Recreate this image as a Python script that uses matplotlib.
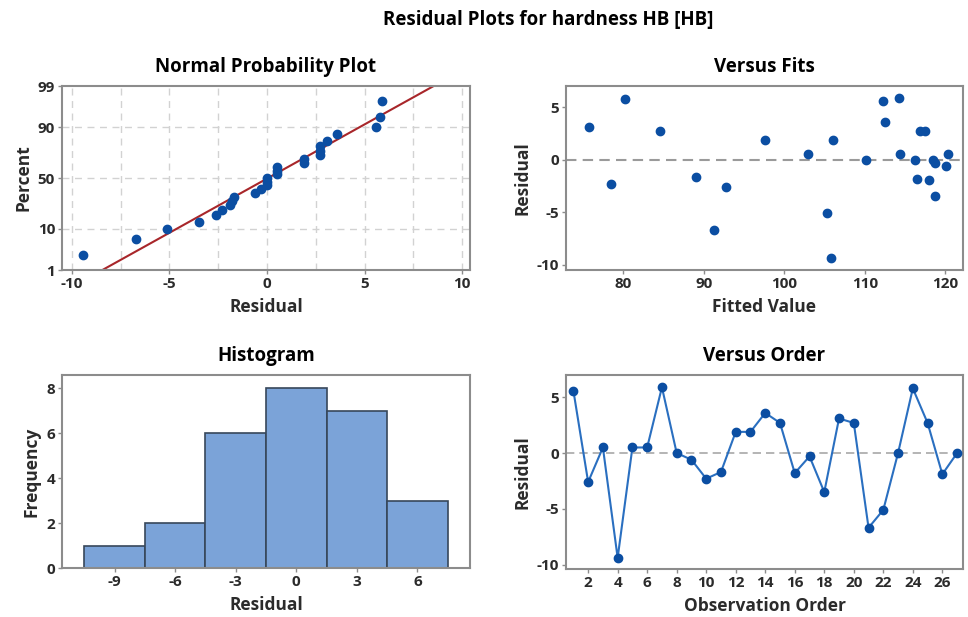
import matplotlib
matplotlib.use('Agg')
import matplotlib.pyplot as plt
import numpy as np
from statistics import NormalDist

plt.rcParams['font.family'] = ['Open Sans', 'DejaVu Sans']
plt.rcParams['font.weight'] = 'bold'
plt.rcParams['axes.unicode_minus'] = False

# residuals in observation order
residuals = [5.6, -2.6, 0.5, -9.4, 0.5, 0.5, 5.9, 0.0, -0.6, -2.3, -1.7, 1.9, 1.9, 3.6,
             2.7, -1.8, -0.3, -3.5, 3.1, 2.7, -6.7, -5.1, 0.0, 5.8, 2.7, -1.9, 0.0]
# fitted values in observation order
fitted = [112.3, 92.8, 103.0, 105.8, 114.4, 120.3, 114.3, 116.3, 120.1, 78.5, 89.1, 97.6,
          106.1, 112.5, 116.9, 116.5, 118.7, 118.7, 75.7, 117.5, 91.3, 105.3, 118.5, 80.2,
          84.6, 118.0, 110.1]
order = list(range(1, len(residuals) + 1))

pct_ticks = [1, 10, 50, 90, 99]
hist_edges = [-10.5, -7.5, -4.5, -1.5, 1.5, 4.5, 7.5]

dot = '#0b4ea2'
spine_col = '#8c8c8c'
txt = '#2b2b2b'
grid_col = '#d2d2d2'
TICK = 11
LAB = 12.5
TTL = 13.5

fig = plt.figure(figsize=(9.68, 6.17), dpi=100)

def style(ax):
    for s in ax.spines.values():
        s.set_color(spine_col)
        s.set_linewidth(1.5)
    ax.tick_params(colors=spine_col, labelcolor=txt, labelsize=TICK, length=3, width=1, pad=2)
    for lab in ax.get_xticklabels() + ax.get_yticklabels():
        lab.set_fontweight('bold')

def labels(ax, xl, yl, title):
    ax.set_xlabel(xl, fontsize=LAB, fontweight='bold', color=txt, labelpad=5)
    ax.set_ylabel(yl, fontsize=LAB, fontweight='bold', color=txt, labelpad=4)
    ax.set_title(title, fontsize=TTL, fontweight='bold', pad=10)

W, H = 968, 617
def box(l, t, r, b):
    return [l / W, 1 - b / H, (r - l) / W, (b - t) / H]

nd = NormalDist()

# --- Normal probability plot
ax1 = fig.add_axes(box(62, 86, 470, 270))
r = np.sort(np.array(residuals))
n = len(r)
p = [(i - 0.3) / (n + 0.4) for i in range(1, n + 1)]
z = [nd.inv_cdf(q) for q in p]
mu, sd = np.mean(r), np.std(r, ddof=1)
zl = np.array([-3.0, 3.0])
ax1.plot(mu + sd * zl, zl, color='#a8262a', lw=1.5, zorder=2)
ax1.scatter(r, z, s=36, color=dot, zorder=3)
ax1.set_xlim(-10.5, 10.4)
ax1.set_ylim(nd.inv_cdf(0.01), nd.inv_cdf(0.99))
ax1.set_xticks([-10, -5, 0, 5, 10])
ax1.set_yticks([nd.inv_cdf(v / 100) for v in pct_ticks])
ax1.set_yticklabels([str(v) for v in pct_ticks])
for gx in np.arange(-10, 10.1, 2.5):
    ax1.axvline(gx, color=grid_col, lw=1, ls=(0, (5, 4)), zorder=0)
for v in [10, 50, 90]:
    ax1.axhline(nd.inv_cdf(v / 100), color=grid_col, lw=1, ls=(0, (5, 4)), zorder=0)
labels(ax1, 'Residual', 'Percent', 'Normal Probability Plot')
style(ax1)

# --- Versus fits
ax2 = fig.add_axes(box(566, 86, 963, 270))
ax2.axhline(0, color='#9a9a9a', lw=1.5, ls=(0, (5, 3)), zorder=1)
ax2.scatter(fitted, residuals, s=36, color=dot, zorder=3)
ax2.set_xlim(72.9, 122.2)
ax2.set_ylim(-10.5, 7.0)
ax2.set_xticks([80, 90, 100, 110, 120])
ax2.set_yticks([-10, -5, 0, 5])
labels(ax2, 'Fitted Value', 'Residual', 'Versus Fits')
style(ax2)

# --- Histogram
ax3 = fig.add_axes(box(62, 375, 470, 568))
ax3.hist(residuals, bins=hist_edges, color='#7ba3d8', edgecolor='#37475a', linewidth=1.2)
ax3.set_xlim(-11.6, 8.6)
ax3.set_ylim(0, 8.6)
ax3.set_xticks([-9, -6, -3, 0, 3, 6])
ax3.set_yticks([0, 2, 4, 6, 8])
labels(ax3, 'Residual', 'Frequency', 'Histogram')
style(ax3)

# --- Versus order
ax4 = fig.add_axes(box(566, 375, 963, 569))
ax4.axhline(0, color='#a8a8a8', lw=1.2, ls=(0, (5, 3)), zorder=1)
ax4.plot(order, residuals, color='#2a6fc0', lw=1.5, marker='o', markersize=6,
         markerfacecolor=dot, markeredgecolor=dot, zorder=3)
ax4.set_xlim(0.5, 27.4)
ax4.set_ylim(-10.4, 7.0)
ax4.set_xticks(list(range(2, 27, 2)))
ax4.set_yticks([-10, -5, 0, 5])
labels(ax4, 'Observation Order', 'Residual', 'Versus Order')
style(ax4)

fig.text(548 / W, 1 - 20 / H, 'Residual Plots for hardness HB [HB]', ha='center', va='center',
         fontsize=TTL, fontweight='bold')

fig.savefig('out.png', dpi=100)
